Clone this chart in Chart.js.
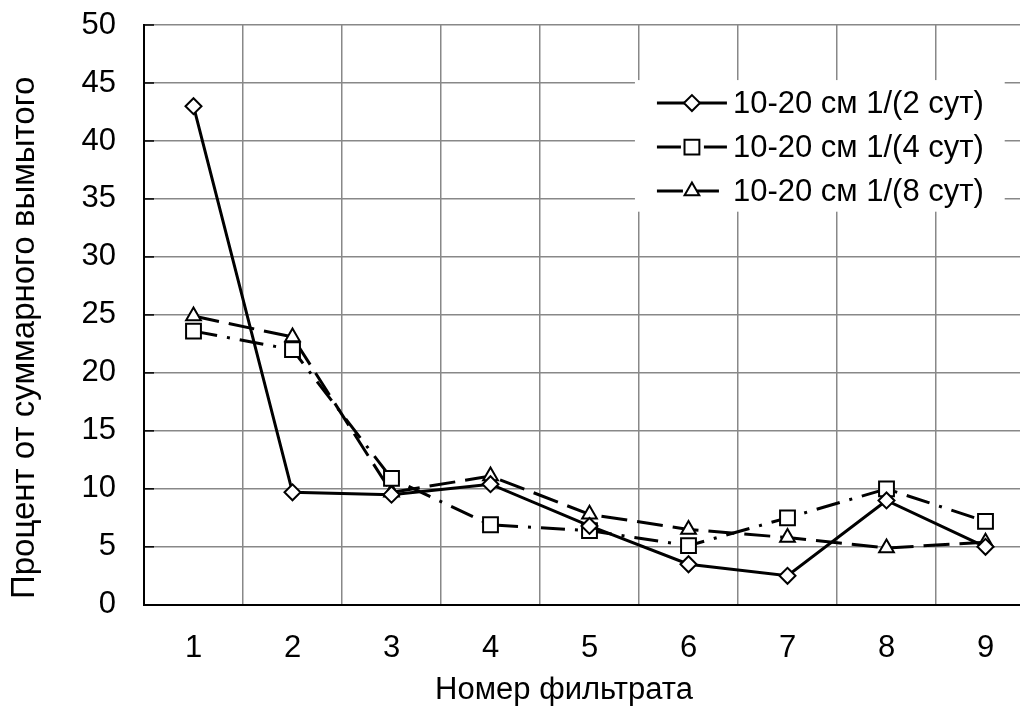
<!DOCTYPE html>
<html>
<head>
<meta charset="utf-8">
<script src="https://cdn.jsdelivr.net/npm/chart.js@4/dist/chart.umd.min.js"></script>
<style>
  html, body { margin: 0; padding: 0; background: #fff; overflow: hidden; }
  #wrap { width: 1128px; height: 709px; }
</style>
</head>
<body>
<div id="wrap"><canvas id="chart"></canvas></div>
<script>
const filters = ["1", "2", "3", "4", "5", "6", "7", "8", "9"];
const days2 = [43, 9.7, 9.5, 10.4, 6.8, 3.5, 2.5, 9.0, 5.0];
const days4 = [23.6, 22.0, 10.9, 6.9, 6.4, 5.1, 7.5, 10.0, 7.2];
const days8 = [24.9, 23.1, 9.7, 11.1, 7.8, 6.5, 5.8, 4.9, 5.4];
const seriesNames = ["10-20 см 1/(2 сут)", "10-20 см 1/(4 сут)", "10-20 см 1/(8 сут)"];

const FONT = "'Liberation Sans', Arial, sans-serif";

// black ticks drawn inside the plot area, like the original
const innerTicks = {
  id: "innerTicks",
  afterDatasetsDraw(chart) {
    const ctx = chart.ctx;
    const a = chart.chartArea;
    const y = chart.scales.y;
    ctx.save();
    ctx.strokeStyle = "#000";
    ctx.lineWidth = 1.5;
    y.ticks.forEach((t, i) => {
      const py = y.getPixelForTick(i);
      ctx.beginPath();
      ctx.moveTo(a.left, py);
      ctx.lineTo(a.left + 10, py);
      ctx.stroke();
    });
    ctx.restore();
  }
};

// legend box sitting inside the chart area
const boxLegend = {
  id: "boxLegend",
  afterDraw(chart) {
    const ctx = chart.ctx;
    const a = chart.chartArea;
    const w = a.right - a.left, h = a.bottom - a.top;
    const left = a.left + w * 0.551, right = a.left + w * 0.966;
    const top = a.top + h * 0.095, bottom = a.top + h * 0.322;
    ctx.save();
    ctx.fillStyle = "#fff";
    ctx.fillRect(left, top, right - left, bottom - top);
    chart.data.datasets.forEach((ds, i) => {
      const cy = top + 23 + i * 44;
      const x1 = left + 22, x2 = left + 92, mx = left + 57;
      ctx.strokeStyle = "#000";
      ctx.lineWidth = ds.borderWidth;
      ctx.setLineDash(ds.borderDash || []);
      ctx.beginPath();
      ctx.moveTo(x1, cy);
      ctx.lineTo(x2, cy);
      ctx.stroke();
      ctx.setLineDash([]);
      ctx.fillStyle = "#fff";
      ctx.lineWidth = ds.pointBorderWidth;
      Chart.helpers.drawPoint(ctx, { pointStyle: ds.pointStyle, radius: ds.pointRadius, rotation: 0, borderWidth: ds.pointBorderWidth }, mx, cy);
      ctx.fillStyle = "#000";
      ctx.font = "31px " + FONT;
      ctx.textBaseline = "middle";
      ctx.textAlign = "left";
      ctx.fillText(ds.label, left + 98, cy + 1);
    });
    ctx.restore();
  }
};

const common = {
  borderColor: "#000",
  borderWidth: 3,
  pointBackgroundColor: "#fff",
  pointBorderColor: "#000",
  pointBorderWidth: 2,
  tension: 0,
  yAxisID: "y"
};

new Chart(document.getElementById("chart"), {
  type: "line",
  data: {
    labels: filters,
    datasets: [
      Object.assign({ label: seriesNames[0], data: days2, pointStyle: "rectRot", pointRadius: 8 }, common),
      Object.assign({ label: seriesNames[1], data: days4, pointStyle: "rect", pointRadius: 10.5, borderDash: [24, 10, 3, 10] }, common),
      Object.assign({ label: seriesNames[2], data: days8, pointStyle: "triangle", pointRadius: 8.5, borderDash: [26, 10] }, common)
    ]
  },
  options: {
    responsive: true,
    maintainAspectRatio: false,
    animation: false,
    layout: { autoPadding: false, padding: { top: 25, left: 0, right: 0, bottom: 0 } },
    plugins: {
      legend: { display: false },
      tooltip: { enabled: false },
      title: {
        display: true,
        text: "Номер фильтрата",
        position: "bottom",
        color: "#000",
        font: { family: FONT, size: 31, weight: "normal" },
        padding: { top: 9, bottom: 0 }
      }
    },
    scales: {
      x: {
        offset: true,
        grid: { offset: true, color: "#888", lineWidth: 1.5, drawTicks: false },
        border: { color: "#000", width: 2 },
        ticks: { color: "#000", padding: 25, font: { family: FONT, size: 31 } },
        afterFit(scale) { scale.height = 58; }
      },
      y: {
        min: 0,
        max: 50,
        ticks: { stepSize: 5, color: "#000", padding: 28, font: { family: FONT, size: 31 } },
        grid: { color: "#888", lineWidth: 1.5, drawTicks: false },
        border: { color: "#000", width: 2 },
        title: {
          display: true,
          // trailing spaces nudge the centred title down a little, as in the original
          text: "Процент от суммарного вымытого     ",
          color: "#000",
          font: { family: FONT, size: 33 },
          padding: { top: 5, bottom: 10 }
        },
        afterFit(scale) {
          scale.width = 144;
          scale.paddingTop = 0;
          scale.paddingBottom = 0;
        }
      },
      // empty right axis: keeps the plot area edge where the original has it
      side: {
        position: "right",
        display: true,
        grid: { display: false },
        border: { display: false },
        ticks: { display: false },
        afterFit(scale) { scale.width = 93; }
      }
    }
  },
  plugins: [innerTicks, boxLegend]
});
</script>
</body>
</html>
